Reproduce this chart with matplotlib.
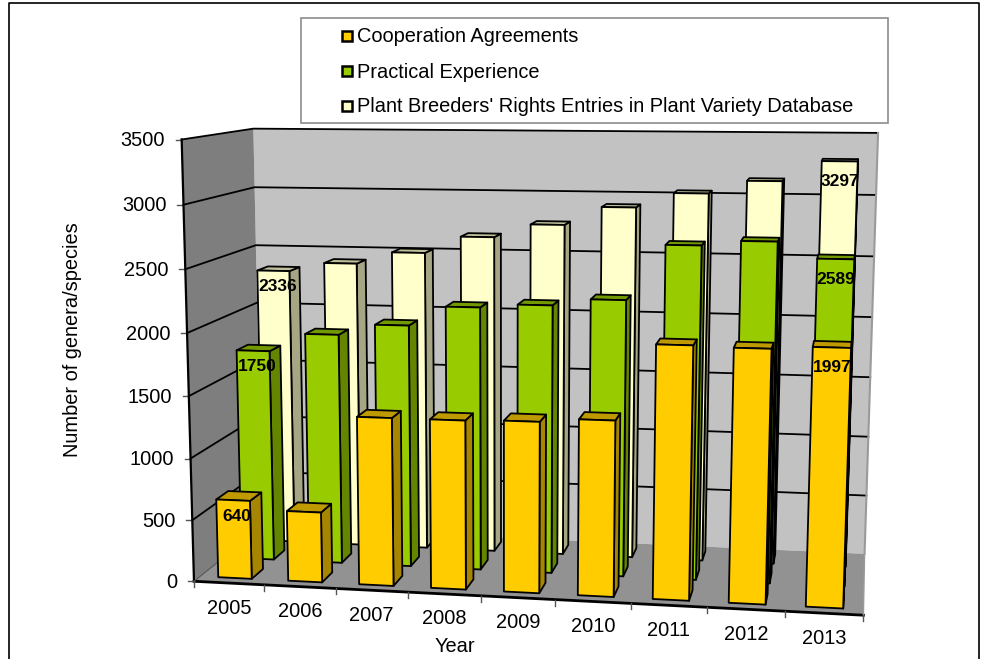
import numpy as np
import matplotlib
matplotlib.use("Agg")
import matplotlib.pyplot as plt
from matplotlib.patches import Polygon, Rectangle

plt.rcParams['font.family'] = ['Liberation Sans', 'DejaVu Sans']

years = [2005, 2006, 2007, 2008, 2009, 2010, 2011, 2012, 2013]
cooperation = [640, 570, 1350, 1350, 1360, 1390, 1985, 1975, 1997]
practical = [1750, 1900, 1990, 2150, 2180, 2235, 2675, 2715, 2589]
breeders = [2336, 2410, 2510, 2650, 2760, 2910, 3030, 3135, 3297]
y_ticks = [0, 500, 1000, 1500, 2000, 2500, 3000, 3500]
series_names = ["Cooperation Agreements", "Practical Experience",
                "Plant Breeders' Rights Entries in Plant Variety Database"]
labelled = {0: [0, 8], 1: [0, 8], 2: [0, 8]}

# front, side, top colours for each series
colours = [("#FFCC00", "#A68500", "#BF9900"),
           ("#99CC00", "#638500", "#739900"),
           ("#FFFFCC", "#A6A685", "#BFBF99")]

y_max = 3500
bar_w = 0.48
bar_d = 1 / 6

# corners of the 3d box (x, depth, z) and where they land in the picture
box = [(0, 0, 0), (1, 0, 0), (0, 1, 0), (1, 1, 0), (0, 0, 1), (0, 1, 1), (1, 1, 1)]
pix = [(195, 581), (863, 616), (261, 527), (865, 553), (181, 139), (254, 129), (878, 133)]


def fit_projection():
    rows = []
    for (x, d, z), (u, v) in zip(box, pix):
        rows.append([x, d, z, 1, 0, 0, 0, 0, -u * x, -u * d, -u * z, -u])
        rows.append([0, 0, 0, 0, x, d, z, 1, -v * x, -v * d, -v * z, -v])
    return np.linalg.svd(np.array(rows))[2][-1].reshape(3, 4)


P = fit_projection()


def proj(cat, depth, value):
    # cat in categories, depth 0-1 front to back, value in data units
    p = P @ np.array([cat / len(years), depth, value / y_max, 1.0])
    return p[0] / p[2], p[1] / p[2]


def face(ax, pts, color, z, lw=1.3, edge="black"):
    ax.add_patch(Polygon([proj(*p) for p in pts], closed=True, facecolor=color,
                         edgecolor=edge, linewidth=lw, zorder=z, joinstyle="round"))


def draw_bar(ax, i, row, value, cols, z):
    x0 = i + 0.5 - bar_w / 2
    x1 = i + 0.5 + bar_w / 2
    d0 = (row + 0.25) / 3
    d1 = d0 + bar_d
    front, side, top = cols
    face(ax, [(x1, d0, 0), (x1, d1, 0), (x1, d1, value), (x1, d0, value)], side, z)
    face(ax, [(x0, d0, value), (x1, d0, value), (x1, d1, value), (x0, d1, value)], top, z)
    face(ax, [(x0, d0, 0), (x1, d0, 0), (x1, d0, value), (x0, d0, value)], front, z + 0.1)


fig = plt.figure(figsize=(9.91, 6.59), dpi=100)
ax = fig.add_axes([0, 0, 1, 1])
ax.set_xlim(0, 991)
ax.set_ylim(659, 0)
ax.axis("off")

# chart frame
ax.plot([9, 9, 979, 979], [659, 3, 3, 659], color="black", lw=1.2, zorder=1)

# walls and floor
n = len(years)
face(ax, [(0, 1, 0), (n, 1, 0), (n, 1, y_max), (0, 1, y_max)], "#C2C2C2", 2, lw=0)
face(ax, [(0, 0, 0), (0, 1, 0), (0, 1, y_max), (0, 0, y_max)], "#7E7E7E", 2, lw=0)
face(ax, [(0, 0, 0), (n, 0, 0), (n, 1, 0), (0, 1, 0)], "#929292", 2, lw=0)

for v in y_ticks[1:]:
    xs, ys = zip(proj(0, 0, v), proj(0, 1, v), proj(n, 1, v))
    ax.plot(xs, ys, color="black", lw=1.3, zorder=3)
    t = proj(0, 0, v)
    ax.plot([t[0] - 6, t[0]], [t[1], t[1]], color="#555555", lw=1, zorder=3)

for a, b, c, w in [((0, 0, 0), (0, 0, y_max), "black", 1.6),
                   ((0, 0, 0), (n, 0, 0), "black", 2),
                   ((0, 0, 0), (0, 1, 0), "#555555", 0.8),
                   ((n, 1, 0), (n, 1, y_max), "#9A9A9A", 1.5),
                   ((n, 1, 0), (n, 0, 0), "#9A9A9A", 1)]:
    pa, pb = proj(*a), proj(*b)
    ax.plot([pa[0], pb[0]], [pa[1], pb[1]], color=c, lw=w, zorder=3)

t = proj(0, 0, 0)
ax.plot([t[0] - 6, t[0]], [t[1], t[1]], color="#555555", lw=1, zorder=3)

for v in y_ticks:
    t = proj(0, 0, v)
    ax.text(t[0] - 17, t[1] + 1, str(v), ha="right", va="center", fontsize=14.4, zorder=3)

for i in range(n + 1):
    t = proj(i, 0, 0)
    ax.plot([t[0], t[0]], [t[1], t[1] + 6], color="#555555", lw=1, zorder=3)

for i, yr in enumerate(years):
    t = proj(i + 0.5, 0, 0)
    ax.text(t[0], t[1] + 25, str(yr), ha="center", va="center", fontsize=14.4, zorder=3)

# bars, back row first
all_series = [cooperation, practical, breeders]
z = 10
for row in [2, 1, 0]:
    for i in range(n - 1, -1, -1):
        draw_bar(ax, i, row, all_series[row][i], colours[row], z)
        z += 1

# data labels for first and last year
for row, idx in labelled.items():
    for i in idx:
        v = all_series[row][i]
        t = proj(i + 0.5, (row + 0.25) / 3, v)
        dx, dy = (4, 16) if i == 0 else (0, 20)
        ax.text(t[0] + dx, t[1] + dy, str(v), ha="center", va="center", fontsize=12.5,
                fontweight="bold", zorder=200)

ax.text(72, 340, "Number of genera/species", rotation=90, ha="center", va="center", fontsize=14.4)
ax.text(455, 646, "Year", ha="center", va="center", fontsize=14.4)

# legend box
ax.add_patch(Rectangle((301, 18), 587, 105, facecolor="white", edgecolor="#8C8C8C", lw=1.2, zorder=300))
for k, name in enumerate(series_names):
    y = 36 + 35 * k
    ax.add_patch(Rectangle((342, y - 5), 10, 10, facecolor=colours[k][0], edgecolor="black", lw=1.8, zorder=301))
    ax.text(357, y + 1, name, ha="left", va="center", fontsize=14.4, zorder=301)

fig.savefig("out.png", dpi=100)
